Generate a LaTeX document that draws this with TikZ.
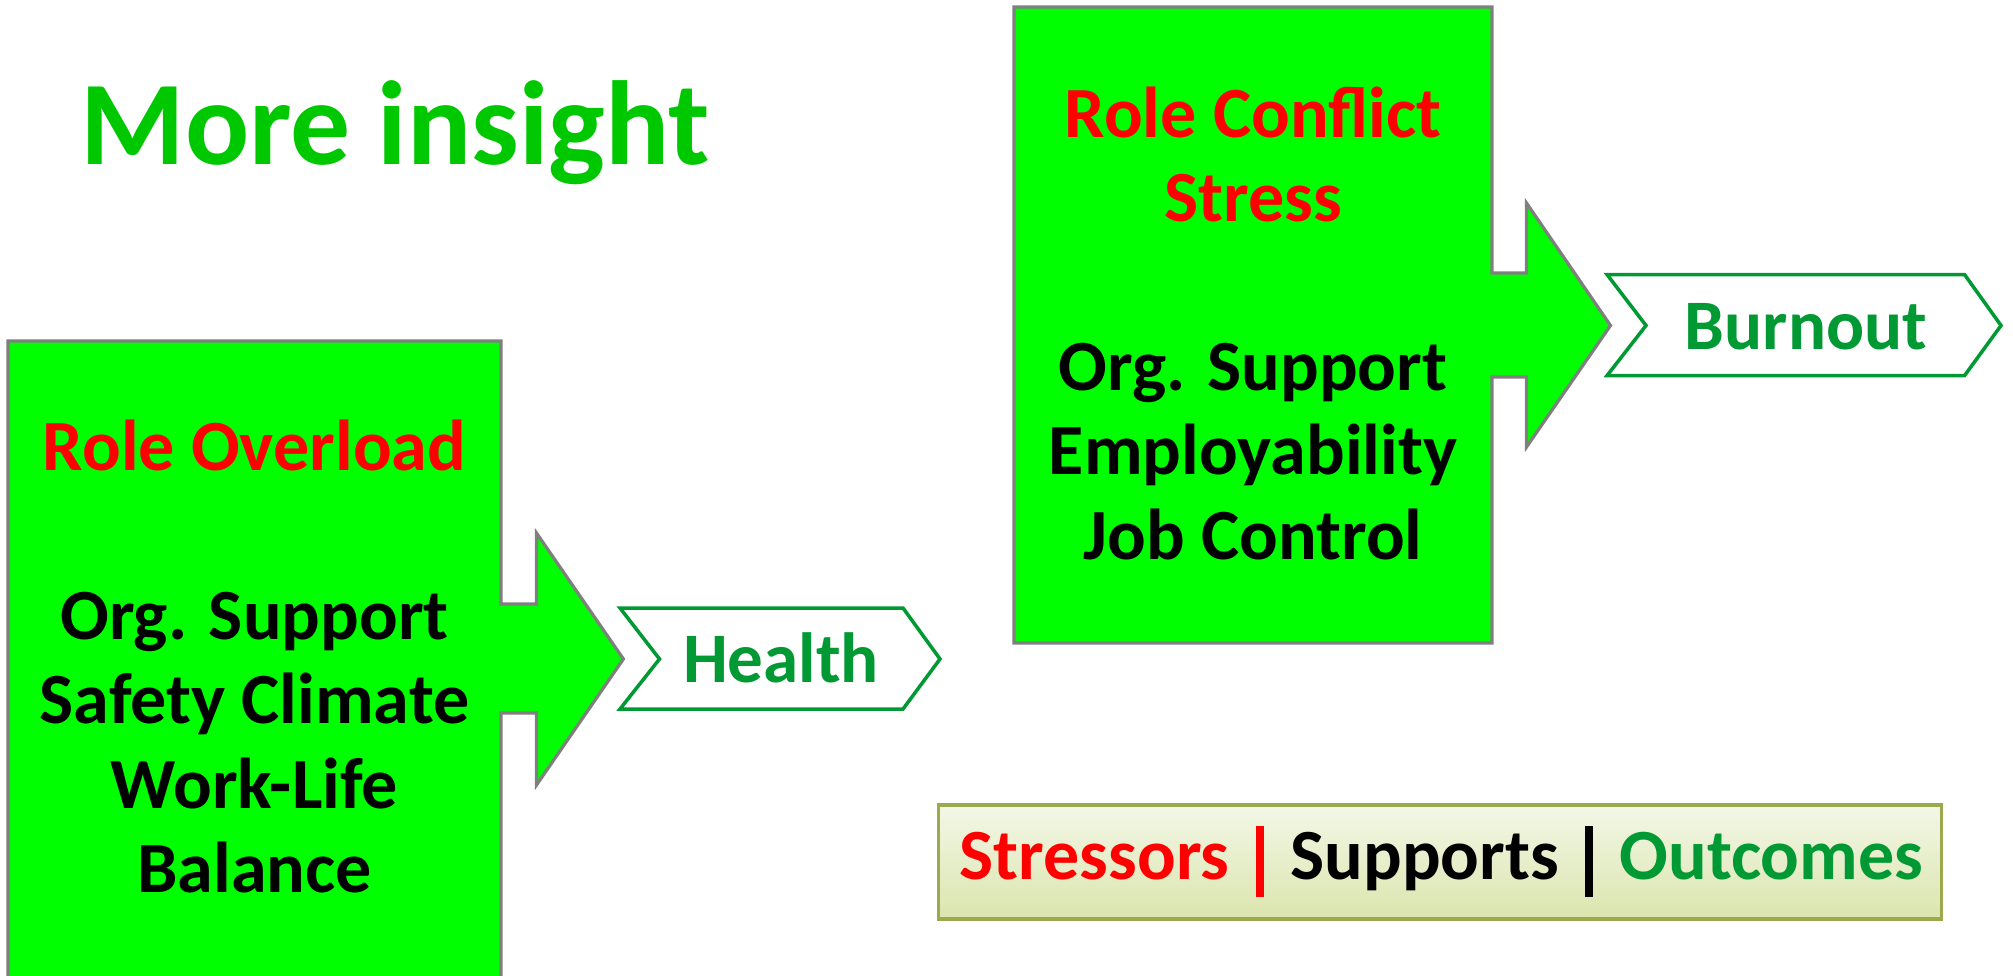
\documentclass[tikz,border=0pt]{standalone}
\usepackage{fontspec}
\setmainfont{Carlito}
\usetikzlibrary{calc}
\definecolor{boxgreen}{HTML}{00FF00}
\definecolor{edgegray}{HTML}{7F7F7F}
\definecolor{titlegreen}{HTML}{00C800}
\definecolor{outgreen}{HTML}{009933}
\definecolor{keytop}{HTML}{F3F7E6}
\definecolor{keybottom}{HTML}{DBE5AE}
\definecolor{keyedge}{HTML}{9AAA4C}

\begin{document}
\begin{tikzpicture}[
            x=0.01cm, y=-0.01cm,
            panel/.style={fill=boxgreen, draw=edgegray, line width=0.9pt},
            outcome/.style={fill=white, draw=outgreen, line width=1pt},
            factors/.style={font=\fontsize{20.5}{24}\selectfont\bfseries, align=center, anchor=base, inner sep=0pt},
            result/.style={font=\fontsize{20.2}{24}\selectfont\bfseries, text=outgreen, anchor=base, inner sep=0pt}
            ]
        \clip (0,0) rectangle (2013,975);

        \path coordinate (tipL) at (623.4,659)
              coordinate (tipR) at (1610.5,325.5);

        % stressor panels with their arrows
        \draw[panel] (8,995) -- (8,341) -- (501,341) -- (501,604) -- (536.5,604) -- (536.5,533)
              -- (tipL) -- (536.5,785) -- (536.5,713) -- (501,713) -- (501,995) -- cycle;
        \draw[panel] (1014,7) -- (1492,7) -- (1492,273) -- (1526.5,273) -- (1526.5,203)
              -- (tipR) -- (1526.5,447) -- (1526.5,377) -- (1492,377) -- (1492,643) -- (1014,643) -- cycle;

        % outcome chevrons
        \draw[outcome] (620,608) -- (903,608) -- (940,659) -- (903,709) -- (620,709) -- (659.5,659) -- cycle;
        \draw[outcome] (1607,274.5) -- (1964.5,274.5) -- (2001,325.5) -- (1964.5,375.6) -- (1607,375.6) -- (1646,325.5) -- cycle;

        \node[anchor=base west, inner sep=0pt, text=titlegreen, font=\fontsize{34}{40}\selectfont\bfseries]
              (title) at (80,164) {More insight};

        \node[factors] (overload) at (254.5,892.5)
              {\textcolor{red}{Role Overload}\\[24pt]Org. Support\\Safety Climate\\Work-Life\\Balance};
        \node[factors] (conflict) at (1253,559)
              {\textcolor{red}{Role Conflict}\\\textcolor{red}{Stress}\\[24pt]Org. Support\\Employability\\Job Control};

        \node[result] (health) at (781,682.4) {Health};
        \node[result] (burnout) at (1806,349.5) {Burnout};

        % key
        \shade[top color=keytop, bottom color=keybottom, draw=keyedge, line width=0.9pt]
              (938.3,805) rectangle (1941.7,919);
        \node[anchor=base west, inner sep=0pt, font=\fontsize{20.5}{24}\selectfont\bfseries]
              (key) at (959,879.3)
              {\textcolor{red}{Stressors\hspace{7.5pt}\rule[-4.95pt]{2.3pt}{20.2pt}}\hspace{7.5pt}Supports\hspace{7.5pt}\rule[-4.95pt]{2.3pt}{20.2pt}\hspace{7.5pt}\textcolor{outgreen}{Outcomes}};
    \end{tikzpicture}
\end{document}
